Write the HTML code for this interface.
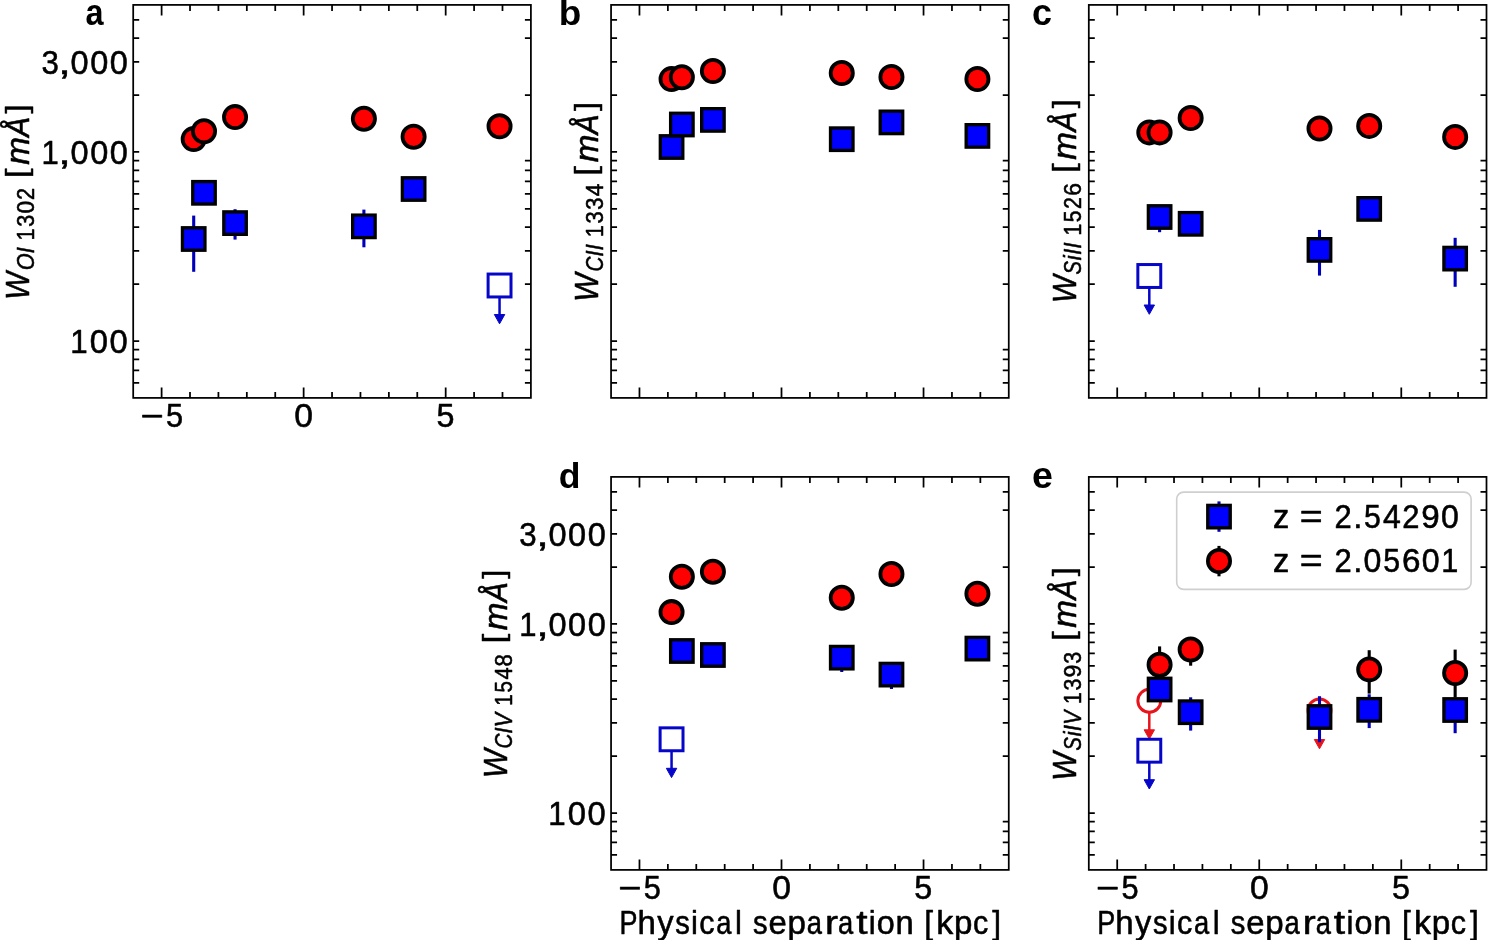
<!DOCTYPE html>
<html><head><meta charset="utf-8"><title>Equivalent width vs physical separation</title>
<style>
html,body{margin:0;padding:0;background:#fff;overflow:hidden;}
svg{display:block;}
.t{font-family:"Liberation Sans",sans-serif;fill:#000;font-kerning:none;stroke:#000;stroke-width:0.55px;stroke-linejoin:round;}
.tb{font-family:"Liberation Sans",sans-serif;fill:#000;font-kerning:none;}
svg{will-change:transform;}
</style></head>
<body>
<svg width="1488" height="940" viewBox="0 0 1488 940">
<rect width="1488" height="940" fill="#fff"/>
<path d="M161.61 397.90V387.40M161.61 4.90V15.40M190.01 397.90V391.90M190.01 4.90V10.90M218.42 397.90V391.90M218.42 4.90V10.90M246.83 397.90V391.90M246.83 4.90V10.90M275.24 397.90V391.90M275.24 4.90V10.90M303.64 397.90V387.40M303.64 4.90V15.40M332.05 397.90V391.90M332.05 4.90V10.90M360.46 397.90V391.90M360.46 4.90V10.90M388.86 397.90V391.90M388.86 4.90V10.90M417.27 397.90V391.90M417.27 4.90V10.90M445.68 397.90V387.40M445.68 4.90V15.40M474.09 397.90V391.90M474.09 4.90V10.90M502.49 397.90V391.90M502.49 4.90V10.90M133.20 382.93H139.20M530.90 382.93H524.90M133.20 370.28H139.20M530.90 370.28H524.90M133.20 359.32H139.20M530.90 359.32H524.90M133.20 349.65H139.20M530.90 349.65H524.90M133.20 341.00H139.20M133.20 284.10H139.20M530.90 284.10H524.90M133.20 250.82H139.20M530.90 250.82H524.90M133.20 227.20H139.20M530.90 227.20H524.90M133.20 208.88H139.20M530.90 208.88H524.90M133.20 193.92H139.20M530.90 193.92H524.90M133.20 181.26H139.20M530.90 181.26H524.90M133.20 170.30H139.20M530.90 170.30H524.90M133.20 160.63H139.20M530.90 160.63H524.90M133.20 151.98H139.20M133.20 95.08H139.20M530.90 95.08H524.90M133.20 61.80H139.20M133.20 38.18H139.20M530.90 38.18H524.90M133.20 19.87H139.20M530.90 19.87H524.90" stroke="#000" stroke-width="1.75" fill="none"/>
<rect x="133.20" y="4.90" width="397.70" height="393.00" fill="none" stroke="#000" stroke-width="1.75"/>
<path d="M639.47 397.90V387.40M639.47 4.90V15.40M667.87 397.90V391.90M667.87 4.90V10.90M696.28 397.90V391.90M696.28 4.90V10.90M724.69 397.90V391.90M724.69 4.90V10.90M753.10 397.90V391.90M753.10 4.90V10.90M781.50 397.90V387.40M781.50 4.90V15.40M809.91 397.90V391.90M809.91 4.90V10.90M838.32 397.90V391.90M838.32 4.90V10.90M866.72 397.90V391.90M866.72 4.90V10.90M895.13 397.90V391.90M895.13 4.90V10.90M923.54 397.90V387.40M923.54 4.90V15.40M951.95 397.90V391.90M951.95 4.90V10.90M980.35 397.90V391.90M980.35 4.90V10.90M611.06 382.93H617.06M1008.76 382.93H1002.76M611.06 370.28H617.06M1008.76 370.28H1002.76M611.06 359.32H617.06M1008.76 359.32H1002.76M611.06 349.65H617.06M1008.76 349.65H1002.76M611.06 341.00H617.06M611.06 284.10H617.06M1008.76 284.10H1002.76M611.06 250.82H617.06M1008.76 250.82H1002.76M611.06 227.20H617.06M1008.76 227.20H1002.76M611.06 208.88H617.06M1008.76 208.88H1002.76M611.06 193.92H617.06M1008.76 193.92H1002.76M611.06 181.26H617.06M1008.76 181.26H1002.76M611.06 170.30H617.06M1008.76 170.30H1002.76M611.06 160.63H617.06M1008.76 160.63H1002.76M611.06 151.98H617.06M611.06 95.08H617.06M1008.76 95.08H1002.76M611.06 61.80H617.06M611.06 38.18H617.06M1008.76 38.18H1002.76M611.06 19.87H617.06M1008.76 19.87H1002.76" stroke="#000" stroke-width="1.75" fill="none"/>
<rect x="611.06" y="4.90" width="397.70" height="393.00" fill="none" stroke="#000" stroke-width="1.75"/>
<path d="M1117.21 397.90V387.40M1117.21 4.90V15.40M1145.61 397.90V391.90M1145.61 4.90V10.90M1174.02 397.90V391.90M1174.02 4.90V10.90M1202.43 397.90V391.90M1202.43 4.90V10.90M1230.84 397.90V391.90M1230.84 4.90V10.90M1259.24 397.90V387.40M1259.24 4.90V15.40M1287.65 397.90V391.90M1287.65 4.90V10.90M1316.06 397.90V391.90M1316.06 4.90V10.90M1344.46 397.90V391.90M1344.46 4.90V10.90M1372.87 397.90V391.90M1372.87 4.90V10.90M1401.28 397.90V387.40M1401.28 4.90V15.40M1429.69 397.90V391.90M1429.69 4.90V10.90M1458.09 397.90V391.90M1458.09 4.90V10.90M1088.80 382.93H1094.80M1486.50 382.93H1480.50M1088.80 370.28H1094.80M1486.50 370.28H1480.50M1088.80 359.32H1094.80M1486.50 359.32H1480.50M1088.80 349.65H1094.80M1486.50 349.65H1480.50M1088.80 341.00H1094.80M1088.80 284.10H1094.80M1486.50 284.10H1480.50M1088.80 250.82H1094.80M1486.50 250.82H1480.50M1088.80 227.20H1094.80M1486.50 227.20H1480.50M1088.80 208.88H1094.80M1486.50 208.88H1480.50M1088.80 193.92H1094.80M1486.50 193.92H1480.50M1088.80 181.26H1094.80M1486.50 181.26H1480.50M1088.80 170.30H1094.80M1486.50 170.30H1480.50M1088.80 160.63H1094.80M1486.50 160.63H1480.50M1088.80 151.98H1094.80M1088.80 95.08H1094.80M1486.50 95.08H1480.50M1088.80 61.80H1094.80M1088.80 38.18H1094.80M1486.50 38.18H1480.50M1088.80 19.87H1094.80M1486.50 19.87H1480.50" stroke="#000" stroke-width="1.75" fill="none"/>
<rect x="1088.80" y="4.90" width="397.70" height="393.00" fill="none" stroke="#000" stroke-width="1.75"/>
<path d="M639.47 869.90V859.40M639.47 476.90V487.40M667.87 869.90V863.90M667.87 476.90V482.90M696.28 869.90V863.90M696.28 476.90V482.90M724.69 869.90V863.90M724.69 476.90V482.90M753.10 869.90V863.90M753.10 476.90V482.90M781.50 869.90V859.40M781.50 476.90V487.40M809.91 869.90V863.90M809.91 476.90V482.90M838.32 869.90V863.90M838.32 476.90V482.90M866.72 869.90V863.90M866.72 476.90V482.90M895.13 869.90V863.90M895.13 476.90V482.90M923.54 869.90V859.40M923.54 476.90V487.40M951.95 869.90V863.90M951.95 476.90V482.90M980.35 869.90V863.90M980.35 476.90V482.90M611.06 854.93H617.06M1008.76 854.93H1002.76M611.06 842.28H617.06M1008.76 842.28H1002.76M611.06 831.32H617.06M1008.76 831.32H1002.76M611.06 821.65H617.06M1008.76 821.65H1002.76M611.06 813.00H617.06M611.06 756.10H617.06M1008.76 756.10H1002.76M611.06 722.82H617.06M1008.76 722.82H1002.76M611.06 699.20H617.06M1008.76 699.20H1002.76M611.06 680.88H617.06M1008.76 680.88H1002.76M611.06 665.92H617.06M1008.76 665.92H1002.76M611.06 653.26H617.06M1008.76 653.26H1002.76M611.06 642.30H617.06M1008.76 642.30H1002.76M611.06 632.63H617.06M1008.76 632.63H1002.76M611.06 623.98H617.06M611.06 567.08H617.06M1008.76 567.08H1002.76M611.06 533.80H617.06M611.06 510.18H617.06M1008.76 510.18H1002.76M611.06 491.87H617.06M1008.76 491.87H1002.76" stroke="#000" stroke-width="1.75" fill="none"/>
<rect x="611.06" y="476.90" width="397.70" height="393.00" fill="none" stroke="#000" stroke-width="1.75"/>
<path d="M1117.21 869.90V859.40M1117.21 476.90V487.40M1145.61 869.90V863.90M1145.61 476.90V482.90M1174.02 869.90V863.90M1174.02 476.90V482.90M1202.43 869.90V863.90M1202.43 476.90V482.90M1230.84 869.90V863.90M1230.84 476.90V482.90M1259.24 869.90V859.40M1259.24 476.90V487.40M1287.65 869.90V863.90M1287.65 476.90V482.90M1316.06 869.90V863.90M1316.06 476.90V482.90M1344.46 869.90V863.90M1344.46 476.90V482.90M1372.87 869.90V863.90M1372.87 476.90V482.90M1401.28 869.90V859.40M1401.28 476.90V487.40M1429.69 869.90V863.90M1429.69 476.90V482.90M1458.09 869.90V863.90M1458.09 476.90V482.90M1088.80 854.93H1094.80M1486.50 854.93H1480.50M1088.80 842.28H1094.80M1486.50 842.28H1480.50M1088.80 831.32H1094.80M1486.50 831.32H1480.50M1088.80 821.65H1094.80M1486.50 821.65H1480.50M1088.80 813.00H1094.80M1088.80 756.10H1094.80M1486.50 756.10H1480.50M1088.80 722.82H1094.80M1486.50 722.82H1480.50M1088.80 699.20H1094.80M1486.50 699.20H1480.50M1088.80 680.88H1094.80M1486.50 680.88H1480.50M1088.80 665.92H1094.80M1486.50 665.92H1480.50M1088.80 653.26H1094.80M1486.50 653.26H1480.50M1088.80 642.30H1094.80M1486.50 642.30H1480.50M1088.80 632.63H1094.80M1486.50 632.63H1480.50M1088.80 623.98H1094.80M1088.80 567.08H1094.80M1486.50 567.08H1480.50M1088.80 533.80H1094.80M1088.80 510.18H1094.80M1486.50 510.18H1480.50M1088.80 491.87H1094.80M1486.50 491.87H1480.50" stroke="#000" stroke-width="1.75" fill="none"/>
<rect x="1088.80" y="476.90" width="397.70" height="393.00" fill="none" stroke="#000" stroke-width="1.75"/>
<circle cx="193.70" cy="139.10" r="11.1" fill="#ff0000" stroke="#000" stroke-width="3.8"/>
<circle cx="204.00" cy="131.20" r="11.1" fill="#ff0000" stroke="#000" stroke-width="3.8"/>
<circle cx="235.05" cy="117.10" r="11.1" fill="#ff0000" stroke="#000" stroke-width="3.8"/>
<circle cx="363.90" cy="118.80" r="11.1" fill="#ff0000" stroke="#000" stroke-width="3.8"/>
<circle cx="413.60" cy="136.70" r="11.1" fill="#ff0000" stroke="#000" stroke-width="3.8"/>
<circle cx="499.55" cy="126.20" r="11.1" fill="#ff0000" stroke="#000" stroke-width="3.8"/>
<line x1="193.70" y1="215.60" x2="193.70" y2="271.80" stroke="#0000bb" stroke-width="3.1"/>
<line x1="235.05" y1="209.20" x2="235.05" y2="239.60" stroke="#0000bb" stroke-width="3.1"/>
<line x1="363.90" y1="209.60" x2="363.90" y2="247.30" stroke="#0000bb" stroke-width="3.1"/>
<rect x="182.45" y="227.75" width="22.5" height="22.5" fill="#0000ff" stroke="#000" stroke-width="3.3"/>
<rect x="192.75" y="181.55" width="22.5" height="22.5" fill="#0000ff" stroke="#000" stroke-width="3.3"/>
<rect x="223.80" y="211.85" width="22.5" height="22.5" fill="#0000ff" stroke="#000" stroke-width="3.3"/>
<rect x="352.65" y="215.10" width="22.5" height="22.5" fill="#0000ff" stroke="#000" stroke-width="3.3"/>
<rect x="402.35" y="177.75" width="22.5" height="22.5" fill="#0000ff" stroke="#000" stroke-width="3.3"/>
<line x1="499.55" y1="285.50" x2="499.55" y2="315.50" stroke="#0606c8" stroke-width="2.5"/>
<path d="M494.35 314.50H504.75L499.55 323.80Z" fill="#0606c8" stroke="#0606c8" stroke-width="1.0" stroke-linejoin="miter"/>
<rect x="488.10" y="274.05" width="22.9" height="22.9" fill="#fff" stroke="#0606c8" stroke-width="3.0"/>
<circle cx="671.56" cy="79.10" r="11.1" fill="#ff0000" stroke="#000" stroke-width="3.8"/>
<circle cx="681.86" cy="77.20" r="11.1" fill="#ff0000" stroke="#000" stroke-width="3.8"/>
<circle cx="712.91" cy="71.00" r="11.1" fill="#ff0000" stroke="#000" stroke-width="3.8"/>
<circle cx="841.76" cy="73.00" r="11.1" fill="#ff0000" stroke="#000" stroke-width="3.8"/>
<circle cx="891.46" cy="77.00" r="11.1" fill="#ff0000" stroke="#000" stroke-width="3.8"/>
<circle cx="977.41" cy="79.00" r="11.1" fill="#ff0000" stroke="#000" stroke-width="3.8"/>
<rect x="660.31" y="135.75" width="22.5" height="22.5" fill="#0000ff" stroke="#000" stroke-width="3.3"/>
<rect x="670.61" y="113.25" width="22.5" height="22.5" fill="#0000ff" stroke="#000" stroke-width="3.3"/>
<rect x="701.66" y="108.65" width="22.5" height="22.5" fill="#0000ff" stroke="#000" stroke-width="3.3"/>
<rect x="830.51" y="127.95" width="22.5" height="22.5" fill="#0000ff" stroke="#000" stroke-width="3.3"/>
<rect x="880.21" y="111.15" width="22.5" height="22.5" fill="#0000ff" stroke="#000" stroke-width="3.3"/>
<rect x="966.16" y="124.65" width="22.5" height="22.5" fill="#0000ff" stroke="#000" stroke-width="3.3"/>
<circle cx="1149.30" cy="132.40" r="11.1" fill="#ff0000" stroke="#000" stroke-width="3.8"/>
<circle cx="1159.60" cy="132.40" r="11.1" fill="#ff0000" stroke="#000" stroke-width="3.8"/>
<circle cx="1190.65" cy="118.00" r="11.1" fill="#ff0000" stroke="#000" stroke-width="3.8"/>
<circle cx="1319.50" cy="128.50" r="11.1" fill="#ff0000" stroke="#000" stroke-width="3.8"/>
<circle cx="1369.20" cy="125.90" r="11.1" fill="#ff0000" stroke="#000" stroke-width="3.8"/>
<circle cx="1455.15" cy="136.90" r="11.1" fill="#ff0000" stroke="#000" stroke-width="3.8"/>
<line x1="1159.60" y1="205.00" x2="1159.60" y2="232.20" stroke="#0000bb" stroke-width="3.1"/>
<line x1="1319.50" y1="229.90" x2="1319.50" y2="275.60" stroke="#0000bb" stroke-width="3.1"/>
<line x1="1455.15" y1="237.80" x2="1455.15" y2="286.80" stroke="#0000bb" stroke-width="3.1"/>
<line x1="1149.30" y1="276.00" x2="1149.30" y2="306.00" stroke="#0606c8" stroke-width="2.5"/>
<path d="M1144.10 305.00H1154.50L1149.30 314.30Z" fill="#0606c8" stroke="#0606c8" stroke-width="1.0" stroke-linejoin="miter"/>
<rect x="1137.85" y="264.55" width="22.9" height="22.9" fill="#fff" stroke="#0606c8" stroke-width="3.0"/>
<rect x="1148.35" y="205.75" width="22.5" height="22.5" fill="#0000ff" stroke="#000" stroke-width="3.3"/>
<rect x="1179.40" y="212.55" width="22.5" height="22.5" fill="#0000ff" stroke="#000" stroke-width="3.3"/>
<rect x="1308.25" y="238.65" width="22.5" height="22.5" fill="#0000ff" stroke="#000" stroke-width="3.3"/>
<rect x="1357.95" y="197.65" width="22.5" height="22.5" fill="#0000ff" stroke="#000" stroke-width="3.3"/>
<rect x="1443.90" y="247.35" width="22.5" height="22.5" fill="#0000ff" stroke="#000" stroke-width="3.3"/>
<circle cx="671.56" cy="612.10" r="11.1" fill="#ff0000" stroke="#000" stroke-width="3.8"/>
<circle cx="681.86" cy="576.80" r="11.1" fill="#ff0000" stroke="#000" stroke-width="3.8"/>
<circle cx="712.91" cy="571.70" r="11.1" fill="#ff0000" stroke="#000" stroke-width="3.8"/>
<circle cx="841.76" cy="597.80" r="11.1" fill="#ff0000" stroke="#000" stroke-width="3.8"/>
<circle cx="891.46" cy="574.00" r="11.1" fill="#ff0000" stroke="#000" stroke-width="3.8"/>
<circle cx="977.41" cy="593.80" r="11.1" fill="#ff0000" stroke="#000" stroke-width="3.8"/>
<line x1="841.76" y1="650.00" x2="841.76" y2="672.00" stroke="#0000bb" stroke-width="3.1"/>
<line x1="891.46" y1="667.00" x2="891.46" y2="689.00" stroke="#0000bb" stroke-width="3.1"/>
<line x1="671.56" y1="739.30" x2="671.56" y2="769.30" stroke="#0606c8" stroke-width="2.5"/>
<path d="M666.36 768.30H676.76L671.56 777.60Z" fill="#0606c8" stroke="#0606c8" stroke-width="1.0" stroke-linejoin="miter"/>
<rect x="660.11" y="727.85" width="22.9" height="22.9" fill="#fff" stroke="#0606c8" stroke-width="3.0"/>
<rect x="670.61" y="639.75" width="22.5" height="22.5" fill="#0000ff" stroke="#000" stroke-width="3.3"/>
<rect x="701.66" y="643.75" width="22.5" height="22.5" fill="#0000ff" stroke="#000" stroke-width="3.3"/>
<rect x="830.51" y="646.40" width="22.5" height="22.5" fill="#0000ff" stroke="#000" stroke-width="3.3"/>
<rect x="880.21" y="663.35" width="22.5" height="22.5" fill="#0000ff" stroke="#000" stroke-width="3.3"/>
<rect x="966.16" y="637.35" width="22.5" height="22.5" fill="#0000ff" stroke="#000" stroke-width="3.3"/>
<line x1="1159.60" y1="646.40" x2="1159.60" y2="684.00" stroke="#000" stroke-width="3.1"/>
<line x1="1190.65" y1="637.00" x2="1190.65" y2="665.70" stroke="#000" stroke-width="3.1"/>
<line x1="1369.20" y1="650.20" x2="1369.20" y2="693.60" stroke="#000" stroke-width="3.1"/>
<line x1="1455.15" y1="649.60" x2="1455.15" y2="697.50" stroke="#000" stroke-width="3.1"/>
<line x1="1149.30" y1="700.80" x2="1149.30" y2="730.80" stroke="#e8141c" stroke-width="2.5"/>
<path d="M1144.10 729.80H1154.50L1149.30 739.10Z" fill="#e8141c" stroke="#e8141c" stroke-width="1.0" stroke-linejoin="miter"/>
<circle cx="1149.30" cy="700.80" r="11.45" fill="#fff" stroke="#e8141c" stroke-width="3.0"/>
<circle cx="1159.60" cy="664.80" r="11.1" fill="#ff0000" stroke="#000" stroke-width="3.8"/>
<circle cx="1190.65" cy="649.50" r="11.1" fill="#ff0000" stroke="#000" stroke-width="3.8"/>
<line x1="1319.50" y1="710.50" x2="1319.50" y2="740.50" stroke="#e8141c" stroke-width="2.5"/>
<path d="M1314.30 739.50H1324.70L1319.50 748.80Z" fill="#e8141c" stroke="#e8141c" stroke-width="1.0" stroke-linejoin="miter"/>
<circle cx="1319.50" cy="710.50" r="11.45" fill="#fff" stroke="#e8141c" stroke-width="3.0"/>
<circle cx="1369.20" cy="669.40" r="11.1" fill="#ff0000" stroke="#000" stroke-width="3.8"/>
<circle cx="1455.15" cy="673.00" r="11.1" fill="#ff0000" stroke="#000" stroke-width="3.8"/>
<line x1="1190.65" y1="697.30" x2="1190.65" y2="730.60" stroke="#0000bb" stroke-width="3.1"/>
<line x1="1319.50" y1="696.20" x2="1319.50" y2="742.20" stroke="#0000bb" stroke-width="3.1"/>
<line x1="1369.20" y1="694.30" x2="1369.20" y2="728.10" stroke="#0000bb" stroke-width="3.1"/>
<line x1="1455.15" y1="700.00" x2="1455.15" y2="733.20" stroke="#0000bb" stroke-width="3.1"/>
<line x1="1149.30" y1="750.70" x2="1149.30" y2="780.70" stroke="#0606c8" stroke-width="2.5"/>
<path d="M1144.10 779.70H1154.50L1149.30 789.00Z" fill="#0606c8" stroke="#0606c8" stroke-width="1.0" stroke-linejoin="miter"/>
<rect x="1137.85" y="739.25" width="22.9" height="22.9" fill="#fff" stroke="#0606c8" stroke-width="3.0"/>
<rect x="1148.35" y="678.25" width="22.5" height="22.5" fill="#0000ff" stroke="#000" stroke-width="3.3"/>
<rect x="1179.40" y="700.95" width="22.5" height="22.5" fill="#0000ff" stroke="#000" stroke-width="3.3"/>
<rect x="1308.25" y="705.75" width="22.5" height="22.5" fill="#0000ff" stroke="#000" stroke-width="3.3"/>
<rect x="1357.95" y="698.55" width="22.5" height="22.5" fill="#0000ff" stroke="#000" stroke-width="3.3"/>
<rect x="1443.90" y="698.75" width="22.5" height="22.5" fill="#0000ff" stroke="#000" stroke-width="3.3"/>
<rect x="1176.7" y="492.1" width="294.4" height="97.3" rx="7" ry="7" fill="#fff" stroke="#cfcfcf" stroke-width="1.6"/>
<line x1="1219.00" y1="501.40" x2="1219.00" y2="531.80" stroke="#0000bb" stroke-width="3.1"/>
<rect x="1207.75" y="505.35" width="22.5" height="22.5" fill="#0000ff" stroke="#000" stroke-width="3.3"/>
<line x1="1219.00" y1="545.90" x2="1219.00" y2="576.30" stroke="#000" stroke-width="3.1"/>
<circle cx="1219.00" cy="561.00" r="11.1" fill="#ff0000" stroke="#000" stroke-width="3.8"/>
<text class="tb" font-size="34.00" font-style="normal" font-weight="bold" transform="matrix(0.9543 0 0 1.0630 85.45 24.95)">a</text>
<text class="tb" font-size="34.00" font-style="normal" font-weight="bold" transform="matrix(1.0856 0 0 1.0333 558.67 25.16)">b</text>
<text class="tb" font-size="34.00" font-style="normal" font-weight="bold" transform="matrix(1.0552 0 0 1.0630 1032.10 24.85)">c</text>
<text class="tb" font-size="34.00" font-style="normal" font-weight="bold" transform="matrix(1.0448 0 0 1.0373 558.64 487.66)">d</text>
<text class="tb" font-size="34.00" font-style="normal" font-weight="bold" transform="matrix(1.1085 0 0 1.0630 1031.93 487.65)">e</text>
<text class="t" font-size="32.56" font-style="normal" font-weight="normal" y="426.80"><tspan x="140.19" textLength="23.26" lengthAdjust="spacingAndGlyphs">−</tspan><tspan x="165.93" textLength="17.11" lengthAdjust="spacingAndGlyphs">5</tspan></text>
<text class="t" font-size="32.56" font-style="normal" font-weight="normal" y="426.80"><tspan x="294.38" textLength="18.73" lengthAdjust="spacingAndGlyphs">0</tspan></text>
<text class="t" font-size="32.56" font-style="normal" font-weight="normal" y="426.80"><tspan x="436.41" textLength="17.95" lengthAdjust="spacingAndGlyphs">5</tspan></text>
<text class="t" font-size="32.56" font-style="normal" font-weight="normal" y="898.80"><tspan x="618.05" textLength="23.26" lengthAdjust="spacingAndGlyphs">−</tspan><tspan x="643.79" textLength="17.11" lengthAdjust="spacingAndGlyphs">5</tspan></text>
<text class="t" font-size="32.56" font-style="normal" font-weight="normal" y="898.80"><tspan x="772.24" textLength="18.73" lengthAdjust="spacingAndGlyphs">0</tspan></text>
<text class="t" font-size="32.56" font-style="normal" font-weight="normal" y="898.80"><tspan x="914.27" textLength="17.95" lengthAdjust="spacingAndGlyphs">5</tspan></text>
<text class="t" font-size="32.56" font-style="normal" font-weight="normal" y="898.80"><tspan x="1095.79" textLength="23.26" lengthAdjust="spacingAndGlyphs">−</tspan><tspan x="1121.53" textLength="17.11" lengthAdjust="spacingAndGlyphs">5</tspan></text>
<text class="t" font-size="32.56" font-style="normal" font-weight="normal" y="898.80"><tspan x="1249.98" textLength="18.73" lengthAdjust="spacingAndGlyphs">0</tspan></text>
<text class="t" font-size="32.56" font-style="normal" font-weight="normal" y="898.80"><tspan x="1392.01" textLength="17.95" lengthAdjust="spacingAndGlyphs">5</tspan></text>
<text class="t" font-size="32.56" font-style="normal" font-weight="normal" y="73.50"><tspan x="41.51" textLength="17.37" lengthAdjust="spacingAndGlyphs">3</tspan><tspan x="58.31" textLength="12.49" lengthAdjust="spacingAndGlyphs">,</tspan><tspan x="70.54" textLength="18.08" lengthAdjust="spacingAndGlyphs">0</tspan><tspan x="90.16" textLength="18.08" lengthAdjust="spacingAndGlyphs">0</tspan><tspan x="109.79" textLength="18.08" lengthAdjust="spacingAndGlyphs">0</tspan></text>
<text class="t" font-size="32.56" font-style="normal" font-weight="normal" y="163.68"><tspan x="41.44" textLength="17.26" lengthAdjust="spacingAndGlyphs">1</tspan><tspan x="58.36" textLength="12.48" lengthAdjust="spacingAndGlyphs">,</tspan><tspan x="70.58" textLength="18.07" lengthAdjust="spacingAndGlyphs">0</tspan><tspan x="90.19" textLength="18.07" lengthAdjust="spacingAndGlyphs">0</tspan><tspan x="109.80" textLength="18.07" lengthAdjust="spacingAndGlyphs">0</tspan></text>
<text class="t" font-size="32.56" font-style="normal" font-weight="normal" y="352.70"><tspan x="70.31" textLength="17.42" lengthAdjust="spacingAndGlyphs">1</tspan><tspan x="89.85" textLength="18.24" lengthAdjust="spacingAndGlyphs">0</tspan><tspan x="109.64" textLength="18.24" lengthAdjust="spacingAndGlyphs">0</tspan></text>
<text class="t" font-size="32.56" font-style="normal" font-weight="normal" y="545.50"><tspan x="519.37" textLength="17.37" lengthAdjust="spacingAndGlyphs">3</tspan><tspan x="536.17" textLength="12.49" lengthAdjust="spacingAndGlyphs">,</tspan><tspan x="548.40" textLength="18.08" lengthAdjust="spacingAndGlyphs">0</tspan><tspan x="568.02" textLength="18.08" lengthAdjust="spacingAndGlyphs">0</tspan><tspan x="587.65" textLength="18.08" lengthAdjust="spacingAndGlyphs">0</tspan></text>
<text class="t" font-size="32.56" font-style="normal" font-weight="normal" y="635.68"><tspan x="519.30" textLength="17.26" lengthAdjust="spacingAndGlyphs">1</tspan><tspan x="536.22" textLength="12.48" lengthAdjust="spacingAndGlyphs">,</tspan><tspan x="548.44" textLength="18.07" lengthAdjust="spacingAndGlyphs">0</tspan><tspan x="568.05" textLength="18.07" lengthAdjust="spacingAndGlyphs">0</tspan><tspan x="587.66" textLength="18.07" lengthAdjust="spacingAndGlyphs">0</tspan></text>
<text class="t" font-size="32.56" font-style="normal" font-weight="normal" y="824.70"><tspan x="548.17" textLength="17.42" lengthAdjust="spacingAndGlyphs">1</tspan><tspan x="567.71" textLength="18.24" lengthAdjust="spacingAndGlyphs">0</tspan><tspan x="587.50" textLength="18.24" lengthAdjust="spacingAndGlyphs">0</tspan></text>
<text class="t" font-size="32.85" font-style="normal" font-weight="normal" y="933.90"><tspan x="619.59" textLength="17.95" lengthAdjust="spacingAndGlyphs">P</tspan><tspan x="637.64" textLength="18.37" lengthAdjust="spacingAndGlyphs">h</tspan><tspan x="657.27" textLength="16.34" lengthAdjust="spacingAndGlyphs">y</tspan><tspan x="675.29" textLength="14.58" lengthAdjust="spacingAndGlyphs">s</tspan><tspan x="691.09" textLength="6.91" lengthAdjust="spacingAndGlyphs">i</tspan><tspan x="699.14" textLength="15.27" lengthAdjust="spacingAndGlyphs">c</tspan><tspan x="716.16" textLength="15.22" lengthAdjust="spacingAndGlyphs">a</tspan><tspan x="734.91" textLength="6.91" lengthAdjust="spacingAndGlyphs">l</tspan><tspan> </tspan><tspan x="753.10" textLength="14.58" lengthAdjust="spacingAndGlyphs">s</tspan><tspan x="768.40" textLength="18.28" lengthAdjust="spacingAndGlyphs">e</tspan><tspan x="787.46" textLength="18.41" lengthAdjust="spacingAndGlyphs">p</tspan><tspan x="806.81" textLength="15.22" lengthAdjust="spacingAndGlyphs">a</tspan><tspan x="824.97" textLength="12.98" lengthAdjust="spacingAndGlyphs">r</tspan><tspan x="837.97" textLength="15.22" lengthAdjust="spacingAndGlyphs">a</tspan><tspan x="856.15" textLength="11.30" lengthAdjust="spacingAndGlyphs">t</tspan><tspan x="868.67" textLength="6.91" lengthAdjust="spacingAndGlyphs">i</tspan><tspan x="876.66" textLength="17.99" lengthAdjust="spacingAndGlyphs">o</tspan><tspan x="895.54" textLength="18.25" lengthAdjust="spacingAndGlyphs">n</tspan><tspan> </tspan><tspan x="924.26" textLength="8.81" lengthAdjust="spacingAndGlyphs">[</tspan><tspan x="936.25" textLength="17.01" lengthAdjust="spacingAndGlyphs">k</tspan><tspan x="954.03" textLength="18.41" lengthAdjust="spacingAndGlyphs">p</tspan><tspan x="973.10" textLength="15.27" lengthAdjust="spacingAndGlyphs">c</tspan><tspan x="992.15" textLength="8.81" lengthAdjust="spacingAndGlyphs">]</tspan></text>
<text class="t" font-size="32.85" font-style="normal" font-weight="normal" y="933.90"><tspan x="1097.33" textLength="17.95" lengthAdjust="spacingAndGlyphs">P</tspan><tspan x="1115.38" textLength="18.37" lengthAdjust="spacingAndGlyphs">h</tspan><tspan x="1135.01" textLength="16.34" lengthAdjust="spacingAndGlyphs">y</tspan><tspan x="1153.03" textLength="14.58" lengthAdjust="spacingAndGlyphs">s</tspan><tspan x="1168.83" textLength="6.91" lengthAdjust="spacingAndGlyphs">i</tspan><tspan x="1176.88" textLength="15.27" lengthAdjust="spacingAndGlyphs">c</tspan><tspan x="1193.90" textLength="15.22" lengthAdjust="spacingAndGlyphs">a</tspan><tspan x="1212.65" textLength="6.91" lengthAdjust="spacingAndGlyphs">l</tspan><tspan> </tspan><tspan x="1230.84" textLength="14.58" lengthAdjust="spacingAndGlyphs">s</tspan><tspan x="1246.14" textLength="18.28" lengthAdjust="spacingAndGlyphs">e</tspan><tspan x="1265.20" textLength="18.41" lengthAdjust="spacingAndGlyphs">p</tspan><tspan x="1284.55" textLength="15.22" lengthAdjust="spacingAndGlyphs">a</tspan><tspan x="1302.71" textLength="12.98" lengthAdjust="spacingAndGlyphs">r</tspan><tspan x="1315.71" textLength="15.22" lengthAdjust="spacingAndGlyphs">a</tspan><tspan x="1333.89" textLength="11.30" lengthAdjust="spacingAndGlyphs">t</tspan><tspan x="1346.41" textLength="6.91" lengthAdjust="spacingAndGlyphs">i</tspan><tspan x="1354.40" textLength="17.99" lengthAdjust="spacingAndGlyphs">o</tspan><tspan x="1373.28" textLength="18.25" lengthAdjust="spacingAndGlyphs">n</tspan><tspan> </tspan><tspan x="1402.00" textLength="8.81" lengthAdjust="spacingAndGlyphs">[</tspan><tspan x="1413.99" textLength="17.01" lengthAdjust="spacingAndGlyphs">k</tspan><tspan x="1431.77" textLength="18.41" lengthAdjust="spacingAndGlyphs">p</tspan><tspan x="1450.84" textLength="15.27" lengthAdjust="spacingAndGlyphs">c</tspan><tspan x="1469.89" textLength="8.81" lengthAdjust="spacingAndGlyphs">]</tspan></text>
<text class="t" font-size="32.56" font-style="normal" font-weight="normal" y="527.70"><tspan x="1272.88" textLength="16.31" lengthAdjust="spacingAndGlyphs">z</tspan><tspan> </tspan><tspan x="1299.86" textLength="22.91" lengthAdjust="spacingAndGlyphs">=</tspan><tspan> </tspan><tspan x="1334.41" textLength="17.20" lengthAdjust="spacingAndGlyphs">2</tspan><tspan x="1353.35" textLength="9.15" lengthAdjust="spacingAndGlyphs">.</tspan><tspan x="1363.91" textLength="16.84" lengthAdjust="spacingAndGlyphs">5</tspan><tspan x="1382.90" textLength="17.85" lengthAdjust="spacingAndGlyphs">4</tspan><tspan x="1402.19" textLength="17.20" lengthAdjust="spacingAndGlyphs">2</tspan><tspan x="1421.25" textLength="18.43" lengthAdjust="spacingAndGlyphs">9</tspan><tspan x="1441.01" textLength="17.85" lengthAdjust="spacingAndGlyphs">0</tspan></text>
<text class="t" font-size="32.56" font-style="normal" font-weight="normal" y="571.90"><tspan x="1272.88" textLength="16.32" lengthAdjust="spacingAndGlyphs">z</tspan><tspan> </tspan><tspan x="1299.87" textLength="22.92" lengthAdjust="spacingAndGlyphs">=</tspan><tspan> </tspan><tspan x="1334.44" textLength="17.21" lengthAdjust="spacingAndGlyphs">2</tspan><tspan x="1353.39" textLength="9.16" lengthAdjust="spacingAndGlyphs">.</tspan><tspan x="1363.57" textLength="17.86" lengthAdjust="spacingAndGlyphs">0</tspan><tspan x="1383.34" textLength="16.85" lengthAdjust="spacingAndGlyphs">5</tspan><tspan x="1402.02" textLength="18.48" lengthAdjust="spacingAndGlyphs">6</tspan><tspan x="1421.71" textLength="17.86" lengthAdjust="spacingAndGlyphs">0</tspan><tspan x="1441.34" textLength="17.05" lengthAdjust="spacingAndGlyphs">1</tspan></text>
<text class="t" font-size="32.85" font-style="italic" font-weight="normal" transform="matrix(0 -1 1.0000 0 28.70 297.10)" y="0"><tspan x="-2.55" textLength="27.83" lengthAdjust="spacingAndGlyphs">W</tspan></text>
<text class="t" font-size="23.26" font-style="italic" font-weight="normal" transform="matrix(0 -1 1.0000 0 33.80 269.10)" y="0"><tspan x="-1.18" textLength="16.90" lengthAdjust="spacingAndGlyphs">O</tspan><tspan x="15.65" textLength="6.31" lengthAdjust="spacingAndGlyphs">I</tspan></text>
<text class="t" font-size="23.26" font-style="normal" font-weight="normal" transform="matrix(0 -1 1.0000 0 33.80 238.80)" y="0"><tspan x="-1.64" textLength="11.97" lengthAdjust="spacingAndGlyphs">1</tspan><tspan x="12.05" textLength="12.03" lengthAdjust="spacingAndGlyphs">3</tspan><tspan x="25.37" textLength="12.53" lengthAdjust="spacingAndGlyphs">0</tspan><tspan x="38.92" textLength="12.08" lengthAdjust="spacingAndGlyphs">2</tspan></text>
<text class="t" font-size="32.85" font-style="normal" font-weight="normal" transform="matrix(0 -1 0.8883 0 26.54 175.70)" y="0"><tspan x="-2.51" textLength="9.79" lengthAdjust="spacingAndGlyphs">[</tspan></text>
<text class="t" font-size="32.85" font-style="italic" font-weight="normal" transform="matrix(0 -1 1.0000 0 28.70 164.20)" y="0"><tspan x="-0.55" textLength="27.69" lengthAdjust="spacingAndGlyphs">m</tspan><tspan x="27.51" textLength="19.79" lengthAdjust="spacingAndGlyphs">Å</tspan></text>
<text class="t" font-size="32.85" font-style="normal" font-weight="normal" transform="matrix(0 -1 0.8883 0 26.54 113.20)" y="0"><tspan x="-0.26" textLength="9.09" lengthAdjust="spacingAndGlyphs">]</tspan></text>
<text class="t" font-size="32.85" font-style="italic" font-weight="normal" transform="matrix(0 -1 1.0000 0 598.36 299.20)" y="0"><tspan x="-2.59" textLength="28.33" lengthAdjust="spacingAndGlyphs">W</tspan></text>
<text class="t" font-size="23.26" font-style="italic" font-weight="normal" transform="matrix(0 -1 1.0000 0 603.46 270.40)" y="0"><tspan x="-1.13" textLength="14.84" lengthAdjust="spacingAndGlyphs">C</tspan><tspan x="13.57" textLength="6.25" lengthAdjust="spacingAndGlyphs">I</tspan><tspan x="19.81" textLength="6.25" lengthAdjust="spacingAndGlyphs">I</tspan></text>
<text class="t" font-size="23.26" font-style="normal" font-weight="normal" transform="matrix(0 -1 1.0000 0 603.46 235.60)" y="0"><tspan x="-1.65" textLength="12.05" lengthAdjust="spacingAndGlyphs">1</tspan><tspan x="12.14" textLength="12.12" lengthAdjust="spacingAndGlyphs">3</tspan><tspan x="25.83" textLength="12.12" lengthAdjust="spacingAndGlyphs">3</tspan><tspan x="39.25" textLength="12.62" lengthAdjust="spacingAndGlyphs">4</tspan></text>
<text class="t" font-size="32.85" font-style="normal" font-weight="normal" transform="matrix(0 -1 0.8883 0 596.20 173.20)" y="0"><tspan x="-2.51" textLength="9.79" lengthAdjust="spacingAndGlyphs">[</tspan></text>
<text class="t" font-size="32.85" font-style="italic" font-weight="normal" transform="matrix(0 -1 1.0000 0 598.36 161.70)" y="0"><tspan x="-0.55" textLength="27.69" lengthAdjust="spacingAndGlyphs">m</tspan><tspan x="27.51" textLength="19.79" lengthAdjust="spacingAndGlyphs">Å</tspan></text>
<text class="t" font-size="32.85" font-style="normal" font-weight="normal" transform="matrix(0 -1 0.8883 0 596.20 110.70)" y="0"><tspan x="-0.26" textLength="9.09" lengthAdjust="spacingAndGlyphs">]</tspan></text>
<text class="t" font-size="32.85" font-style="italic" font-weight="normal" transform="matrix(0 -1 1.0000 0 1076.10 300.50)" y="0"><tspan x="-2.54" textLength="27.73" lengthAdjust="spacingAndGlyphs">W</tspan></text>
<text class="t" font-size="23.26" font-style="italic" font-weight="normal" transform="matrix(0 -1 1.0000 0 1081.20 274.00)" y="0"><tspan x="-0.57" textLength="13.51" lengthAdjust="spacingAndGlyphs">S</tspan><tspan x="13.79" textLength="4.92" lengthAdjust="spacingAndGlyphs">i</tspan><tspan x="18.99" textLength="6.29" lengthAdjust="spacingAndGlyphs">I</tspan><tspan x="25.27" textLength="6.29" lengthAdjust="spacingAndGlyphs">I</tspan></text>
<text class="t" font-size="23.26" font-style="normal" font-weight="normal" transform="matrix(0 -1 1.0000 0 1081.20 234.00)" y="0"><tspan x="-1.61" textLength="11.78" lengthAdjust="spacingAndGlyphs">1</tspan><tspan x="11.86" textLength="11.64" lengthAdjust="spacingAndGlyphs">5</tspan><tspan x="24.92" textLength="11.89" lengthAdjust="spacingAndGlyphs">2</tspan><tspan x="38.14" textLength="12.76" lengthAdjust="spacingAndGlyphs">6</tspan></text>
<text class="t" font-size="32.85" font-style="normal" font-weight="normal" transform="matrix(0 -1 0.8883 0 1073.94 170.60)" y="0"><tspan x="-2.51" textLength="9.79" lengthAdjust="spacingAndGlyphs">[</tspan></text>
<text class="t" font-size="32.85" font-style="italic" font-weight="normal" transform="matrix(0 -1 1.0000 0 1076.10 159.10)" y="0"><tspan x="-0.55" textLength="27.69" lengthAdjust="spacingAndGlyphs">m</tspan><tspan x="27.51" textLength="19.79" lengthAdjust="spacingAndGlyphs">Å</tspan></text>
<text class="t" font-size="32.85" font-style="normal" font-weight="normal" transform="matrix(0 -1 0.8883 0 1073.94 108.10)" y="0"><tspan x="-0.26" textLength="9.09" lengthAdjust="spacingAndGlyphs">]</tspan></text>
<text class="t" font-size="32.85" font-style="italic" font-weight="normal" transform="matrix(0 -1 1.0000 0 506.56 775.60)" y="0"><tspan x="-2.66" textLength="29.04" lengthAdjust="spacingAndGlyphs">W</tspan></text>
<text class="t" font-size="23.26" font-style="italic" font-weight="normal" transform="matrix(0 -1 1.0000 0 511.66 747.30)" y="0"><tspan x="-1.14" textLength="14.95" lengthAdjust="spacingAndGlyphs">C</tspan><tspan x="13.67" textLength="6.29" lengthAdjust="spacingAndGlyphs">I</tspan><tspan x="20.08" textLength="14.35" lengthAdjust="spacingAndGlyphs">V</tspan></text>
<text class="t" font-size="23.26" font-style="normal" font-weight="normal" transform="matrix(0 -1 1.0000 0 511.66 704.10)" y="0"><tspan x="-1.59" textLength="11.59" lengthAdjust="spacingAndGlyphs">1</tspan><tspan x="11.67" textLength="11.46" lengthAdjust="spacingAndGlyphs">5</tspan><tspan x="24.58" textLength="12.14" lengthAdjust="spacingAndGlyphs">4</tspan><tspan x="37.69" textLength="12.27" lengthAdjust="spacingAndGlyphs">8</tspan></text>
<text class="t" font-size="32.85" font-style="normal" font-weight="normal" transform="matrix(0 -1 0.8883 0 504.40 641.10)" y="0"><tspan x="-2.51" textLength="9.79" lengthAdjust="spacingAndGlyphs">[</tspan></text>
<text class="t" font-size="32.85" font-style="italic" font-weight="normal" transform="matrix(0 -1 1.0000 0 506.56 629.60)" y="0"><tspan x="-0.55" textLength="27.69" lengthAdjust="spacingAndGlyphs">m</tspan><tspan x="27.51" textLength="19.79" lengthAdjust="spacingAndGlyphs">Å</tspan></text>
<text class="t" font-size="32.85" font-style="normal" font-weight="normal" transform="matrix(0 -1 0.8883 0 504.40 578.60)" y="0"><tspan x="-0.26" textLength="9.09" lengthAdjust="spacingAndGlyphs">]</tspan></text>
<text class="t" font-size="32.85" font-style="italic" font-weight="normal" transform="matrix(0 -1 1.0000 0 1076.10 778.10)" y="0"><tspan x="-2.61" textLength="28.54" lengthAdjust="spacingAndGlyphs">W</tspan></text>
<text class="t" font-size="23.26" font-style="italic" font-weight="normal" transform="matrix(0 -1 1.0000 0 1081.20 749.90)" y="0"><tspan x="-0.57" textLength="13.35" lengthAdjust="spacingAndGlyphs">S</tspan><tspan x="13.62" textLength="4.86" lengthAdjust="spacingAndGlyphs">i</tspan><tspan x="18.76" textLength="6.21" lengthAdjust="spacingAndGlyphs">I</tspan><tspan x="25.09" textLength="14.16" lengthAdjust="spacingAndGlyphs">V</tspan></text>
<text class="t" font-size="23.26" font-style="normal" font-weight="normal" transform="matrix(0 -1 1.0000 0 1081.20 702.30)" y="0"><tspan x="-1.62" textLength="11.79" lengthAdjust="spacingAndGlyphs">1</tspan><tspan x="11.88" textLength="11.86" lengthAdjust="spacingAndGlyphs">3</tspan><tspan x="24.74" textLength="12.75" lengthAdjust="spacingAndGlyphs">9</tspan><tspan x="38.68" textLength="11.86" lengthAdjust="spacingAndGlyphs">3</tspan></text>
<text class="t" font-size="32.85" font-style="normal" font-weight="normal" transform="matrix(0 -1 0.8883 0 1073.94 638.60)" y="0"><tspan x="-2.51" textLength="9.79" lengthAdjust="spacingAndGlyphs">[</tspan></text>
<text class="t" font-size="32.85" font-style="italic" font-weight="normal" transform="matrix(0 -1 1.0000 0 1076.10 627.10)" y="0"><tspan x="-0.55" textLength="27.69" lengthAdjust="spacingAndGlyphs">m</tspan><tspan x="27.51" textLength="19.79" lengthAdjust="spacingAndGlyphs">Å</tspan></text>
<text class="t" font-size="32.85" font-style="normal" font-weight="normal" transform="matrix(0 -1 0.8883 0 1073.94 576.10)" y="0"><tspan x="-0.26" textLength="9.09" lengthAdjust="spacingAndGlyphs">]</tspan></text>
</svg>
</body></html>
